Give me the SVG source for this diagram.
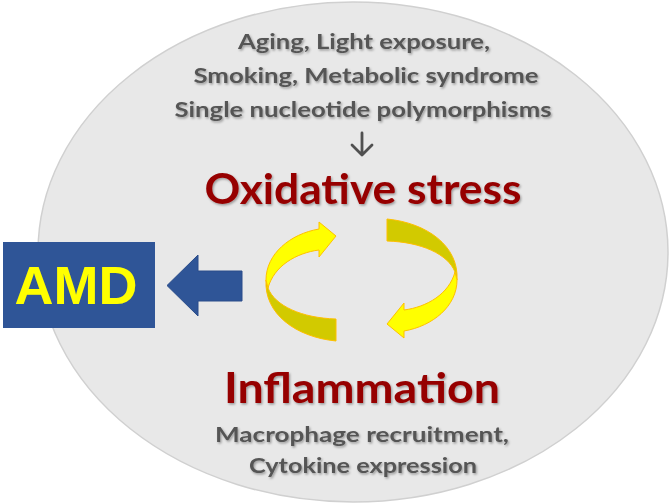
<svg xmlns="http://www.w3.org/2000/svg" width="672" height="504" viewBox="0 0 672 504">
<defs>
<filter id="sh" x="-10%" y="-20%" width="120%" height="150%">
<feDropShadow dx="1.2" dy="1.5" stdDeviation="1" flood-color="#000" flood-opacity="0.35"/>
</filter>
<style>
.cause{font-family:Lato,"Open Sans","Liberation Sans",sans-serif;font-weight:bold;font-size:21px;fill:#555555;text-anchor:middle}
.title{font-family:Lato,"Open Sans","Liberation Sans",sans-serif;font-weight:bold;font-size:42px;fill:#960000;text-anchor:middle}
.amd{font-family:"Liberation Sans",Arial,sans-serif;font-weight:bold;font-size:54px;fill:#ffff00;text-anchor:middle}
.front{fill:#ffff00;stroke:#ffc000;stroke-width:1;stroke-linejoin:round}
.back{fill:#d2ca00;stroke:#ffc000;stroke-width:1;stroke-linejoin:round}
</style>
</defs>
<rect width="672" height="504" fill="#ffffff"/>
<g id="background">
<ellipse cx="353" cy="252" rx="315" ry="250" fill="#e8e8e8" stroke="#d0d0d0" stroke-width="1.5"/>
</g>
<g id="causes" filter="url(#sh)">
<text class="cause" x="364" y="49" textLength="252" lengthAdjust="spacingAndGlyphs">Aging, Light exposure,</text>
<text class="cause" x="366" y="83" textLength="345" lengthAdjust="spacingAndGlyphs">Smoking, Metabolic syndrome</text>
<text class="cause" x="363" y="117" textLength="377" lengthAdjust="spacingAndGlyphs">Single nucleotide polymorphisms</text>
</g>
<g id="oxidative-stress" filter="url(#sh)">
<text class="title" x="363" y="204" textLength="317" lengthAdjust="spacingAndGlyphs">Oxidative stress</text>
</g>
<g id="inflammation" filter="url(#sh)">
<text class="title" x="362" y="403" textLength="276" lengthAdjust="spacingAndGlyphs">Inflammation</text>
</g>
<g id="inflammation-details" filter="url(#sh)">
<text class="cause" x="362" y="442" textLength="294" lengthAdjust="spacingAndGlyphs">Macrophage recruitment,</text>
<text class="cause" x="363" y="473" textLength="228" lengthAdjust="spacingAndGlyphs">Cytokine expression</text>
</g>
<g id="AMD">
<rect x="3" y="242" width="152" height="86" fill="#2f5597"/>
<text class="amd" x="76" y="304">AMD</text>
</g>
<g id="connectors">
<path d="M362,133 V155 M352,145 L362,155 L372,145" fill="none" stroke="#505050" stroke-width="2.8" stroke-linecap="round" stroke-linejoin="round"/>
<path d="M242,271 H198 V255 L167,285.5 L198,316 V301 H242 Z" fill="#2f5597" stroke="#2a4d8a" stroke-width="1"/>
<g id="cycle-left">
<path class="back" d="M266,280 C264,314 296,337 336,341 L336,319 C302,318 275,306 268,288 Z"/>
<path class="front" d="M266,280 C266,254 290,234 319,229 L319,222 L336,236 L319,257 L319,250 C296,253 274,266 268,288 Z"/>
</g>
<g id="cycle-right" transform="rotate(180 361.5 280)">
<path class="back" d="M266,280 C264,314 296,337 336,341 L336,319 C302,318 275,306 268,288 Z"/>
<path class="front" d="M266,280 C266,254 290,234 319,229 L319,222 L336,236 L319,257 L319,250 C296,253 274,266 268,288 Z"/>
</g>
</g>
</svg>
